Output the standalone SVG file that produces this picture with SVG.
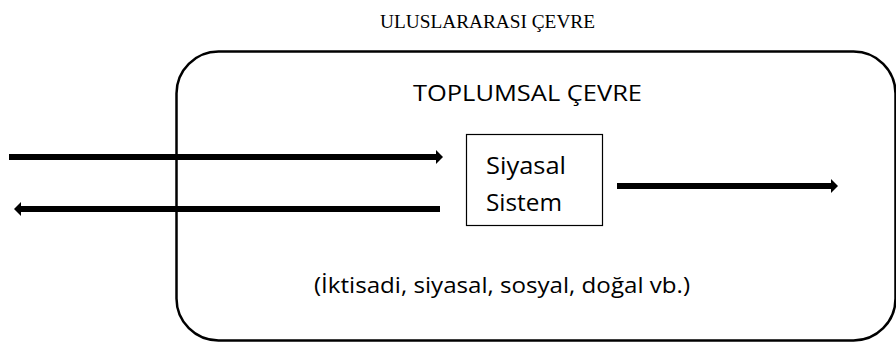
<svg xmlns="http://www.w3.org/2000/svg" width="896" height="349" viewBox="0 0 896 349">
<style>
.sans{font-family:"Open Sans","Noto Sans","DejaVu Sans",sans-serif;fill:#000}
.serif{font-family:"Liberation Serif","Times New Roman",serif;fill:#000}
.conn{stroke:#000;stroke-width:6;fill:none}
</style>
<defs>
<marker id="ah" markerUnits="userSpaceOnUse" markerWidth="8" markerHeight="14" refX="1" refY="7" orient="auto">
<path d="M0,0 L7,7 L0,14 Z" fill="#000"/>
</marker>
</defs>
<rect width="896" height="349" fill="#fff"/>
<text class="serif" x="487.5" y="28" font-size="19" text-anchor="middle" textLength="215" lengthAdjust="spacingAndGlyphs">ULUSLARARASI ÇEVRE</text>
<g id="environment">
<rect x="176.5" y="51.5" width="719" height="289" rx="42" ry="42" fill="none" stroke="#000" stroke-width="2.5"/>
<text class="sans" x="527.5" y="101" font-size="22.5" text-anchor="middle" textLength="229" lengthAdjust="spacingAndGlyphs">TOPLUMSAL ÇEVRE</text>
<text class="sans" x="502" y="293" font-size="22.5" text-anchor="middle" textLength="376" lengthAdjust="spacingAndGlyphs">(İktisadi, siyasal, sosyal, doğal vb.)</text>
</g>
<g id="system">
<rect x="466.5" y="134.5" width="136" height="91" fill="#fff" stroke="#000" stroke-width="1.2"/>
<text class="sans" x="486" y="174" font-size="24" textLength="80" lengthAdjust="spacingAndGlyphs">Siyasal</text>
<text class="sans" x="486" y="211" font-size="24" textLength="76" lengthAdjust="spacingAndGlyphs">Sistem</text>
</g>
<g id="connectors">
<line class="conn" x1="9" y1="157" x2="437" y2="157" marker-end="url(#ah)"/>
<line class="conn" x1="440" y1="209" x2="20" y2="209" marker-end="url(#ah)"/>
<line class="conn" x1="617" y1="186" x2="832" y2="186" marker-end="url(#ah)"/>
</g>
</svg>
